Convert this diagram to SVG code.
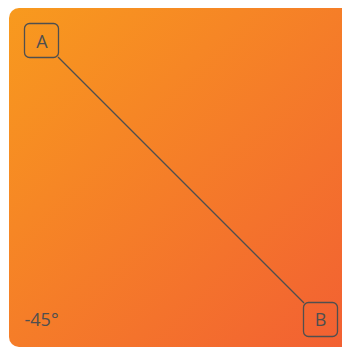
<svg xmlns="http://www.w3.org/2000/svg" width="342" height="349" viewBox="0 0 342 349">
<defs>
<linearGradient id="bg" x1="0" y1="0" x2="1" y2="1">
<stop offset="0" stop-color="#F89A1E"/>
<stop offset="1" stop-color="#F25F33"/>
</linearGradient>
<style>
.node rect{fill:none;stroke:#4f4f4f;stroke-width:1.3}
.node text,.lbl{font-family:"Open Sans","DejaVu Sans",sans-serif;font-size:18px;fill:#4f4f4f}
.node text{text-anchor:middle}
.edge{stroke:#4f4f4f;stroke-width:1.2;fill:none}
</style>
</defs>
<rect x="9" y="8" width="350" height="339" rx="10" fill="url(#bg)"/>
<g id="connectors">
<line class="edge" x1="58" y1="57" x2="304" y2="303"/>
</g>
<g id="A" class="node">
<rect x="24.5" y="23.5" width="34" height="34" rx="5"/>
<text x="42" y="47.5">A</text>
</g>
<g id="B" class="node">
<rect x="303.5" y="302.5" width="34" height="34" rx="5"/>
<text x="320.5" y="326">B</text>
</g>
<text class="lbl" x="24.5" y="326">-45°</text>
</svg>
